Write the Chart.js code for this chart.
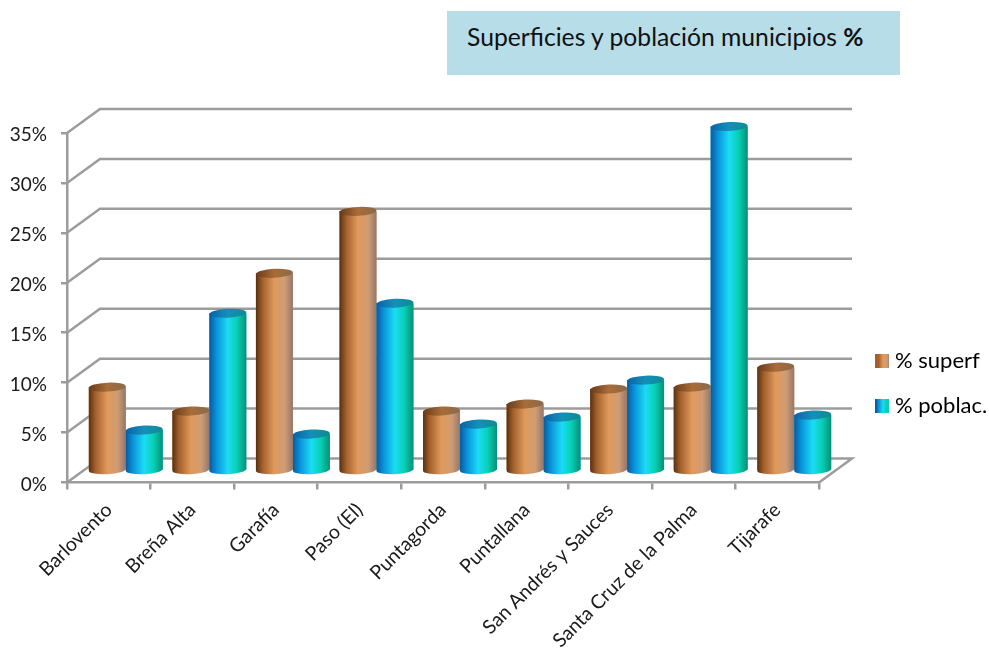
<!DOCTYPE html>
<html>
<head>
<meta charset="utf-8">
<title>Superficies y población municipios %</title>
<script src="https://cdn.jsdelivr.net/npm/chart.js@4/dist/chart.umd.min.js"></script>
<style>
    html, body { margin: 0; padding: 0; background: #fff; overflow: hidden; }
    #wrap { position: relative; width: 989px; height: 648px; }
    #chart { display: block; }
    #title {
        position: absolute; left: 447px; top: 11px; width: 433px; height: 64px;
        padding-left: 20px; background: #b7dde8; color: #111;
        font: 24.7px/52px Lato, sans-serif;
    }
</style>
</head>
<body>
<div id="wrap">
    <div id="title">Superficies y población municipios <b>%</b></div>
    <canvas id="chart" width="989" height="648"></canvas>
</div>
<script>
const categories = ['Barlovento', 'Breña Alta', 'Garafía', 'Paso (El)', 'Puntagorda', 'Puntallana',
    'San Andrés y Sauces', 'Santa Cruz de la Palma', 'Tijarafe'];
const superf = [8.4, 6.0, 19.8, 26.0, 6.0, 6.7, 8.2, 8.4, 10.4];
const poblac = [4.1, 15.8, 3.7, 16.8, 4.7, 5.4, 9.1, 34.5, 5.6];
const yTicks = [0, 5, 10, 15, 20, 25, 30, 35];

const GREY = '#9c9c9c';
const TEXT = '#1a1a1a';
const BACK_X = 33;   // how far the back wall sits behind the axes
const BACK_Y = 24;
const MID_X = 17;    // bars stand half way into the floor
const MID_Y = 11.5;
const CAP_RY = 4.5;

const orangeStops = [[0, '#59300f'], [0.18, '#a3602c'], [0.5, '#e09a5c'], [0.78, '#cf9c74'], [1, '#94776a']];
const blueStops = [[0, '#0a5a9e'], [0.2, '#0a94dc'], [0.5, '#1bdcf4'], [0.75, '#08d0b4'], [1, '#078f78']];
const orangeCap = [[0, '#6a3a16'], [0.5, '#a86c38'], [1, '#8a6a48']];
const blueCap = [[0, '#0a62a8'], [0.5, '#1490b8'], [1, '#0c8c90']];

function hGradient(ctx, x0, x1, stops) {
    const g = ctx.createLinearGradient(x0, 0, x1, 0);
    stops.forEach(s => g.addColorStop(s[0], s[1]));
    return g;
}

// Back wall, floor and the short slanted lines going back from the value axis
const wallPlugin = {
    id: 'wall',
    beforeDatasetsDraw(chart) {
        const { ctx, chartArea, scales } = chart;
        ctx.save();
        ctx.strokeStyle = GREY;
        ctx.lineWidth = 2.5;
        yTicks.forEach(v => {
            const y = scales.y.getPixelForValue(v);
            ctx.beginPath();
            ctx.moveTo(chartArea.left, y);
            ctx.lineTo(chartArea.left + BACK_X, y - BACK_Y);
            ctx.lineTo(chartArea.right + BACK_X, y - BACK_Y);
            if (v === 0) ctx.lineTo(chartArea.right, y);
            ctx.stroke();
        });
        ctx.restore();
        // the library's bars are drawn moved back into the floor
        ctx.save();
        ctx.translate(MID_X, -MID_Y);
    }
};

// Turns the library's flat bars into shaded cylinders, first series first
const cylinderPlugin = {
    id: 'cylinder',
    afterDatasetsDraw(chart) {
        const ctx = chart.ctx;
        chart.data.datasets.forEach((ds, index) => {
            const isOrange = index === 0;
            chart.getDatasetMeta(index).data.forEach(bar => {
                const left = bar.x - bar.width / 2;
                const right = bar.x + bar.width / 2;
                const rx = bar.width / 2;
                ctx.fillStyle = hGradient(ctx, left, right, isOrange ? orangeStops : blueStops);
                ctx.beginPath();
                ctx.moveTo(left, bar.y);
                ctx.lineTo(right, bar.y);
                ctx.lineTo(right, bar.base);
                ctx.ellipse(bar.x, bar.base, rx, CAP_RY, -0.05, 0, Math.PI);
                ctx.closePath();
                ctx.fill();
                ctx.fillStyle = hGradient(ctx, left, right, isOrange ? orangeCap : blueCap);
                ctx.beginPath();
                ctx.ellipse(bar.x, bar.y, rx, CAP_RY, -0.05, 0, Math.PI * 2);
                ctx.fill();
            });
        });
        ctx.restore();
    }
};

// The legend sits to the right of the plot, below the middle
const legendPlacePlugin = {
    id: 'legendPlace',
    afterLayout(chart) {
        chart.legend.left = 857;
        chart.legend.right = 989;
        chart.legend.top = 327;
        chart.legend.bottom = 648;
    }
};

const canvasCtx = document.getElementById('chart').getContext('2d');

new Chart(canvasCtx, {
    type: 'bar',
    data: {
        labels: categories,
        datasets: [
            { label: '% superf', data: superf, backgroundColor: '#c98a55' },
            { label: '% poblac.', data: poblac, backgroundColor: '#14b4dc' }
        ]
    },
    options: {
        responsive: false,
        animation: false,
        layout: { padding: { left: 0, right: 170, top: 133, bottom: 0 } },
        datasets: { bar: { categoryPercentage: 0.885, barPercentage: 1, clip: false } },
        plugins: {
            title: { display: false },
            tooltip: { enabled: false },
            legend: {
                position: 'chartArea',
                align: 'start',
                labels: {
                    color: TEXT,
                    font: { family: 'Lato', size: 22 },
                    // small box with a thick border, keeps the text close to the swatch
                    boxWidth: 4,
                    boxHeight: 4,
                    padding: 23,
                    generateLabels(chart) {
                        return chart.data.datasets.map((ds, i) => {
                            const fill = hGradient(canvasCtx, 876, 890, i === 0 ? orangeStops.slice(1) : blueStops.slice(0, 4));
                            return { text: ds.label, datasetIndex: i, lineWidth: 10, strokeStyle: fill, fillStyle: fill };
                        });
                    }
                }
            }
        },
        scales: {
            x: {
                afterFit(scale) { scale.height = 165.5; },
                grid: { drawOnChartArea: false, drawTicks: true, tickLength: 7, color: GREY, lineWidth: 2.5 },
                border: { color: GREY, width: 2.5 },
                ticks: {
                    color: TEXT,
                    font: { family: 'Lato', size: 19.5 },
                    minRotation: 45,
                    maxRotation: 45,
                    autoSkip: false,
                    padding: 9
                }
            },
            y: {
                min: 0,
                max: 35,
                afterFit(scale) { scale.width = 67; },
                afterBuildTicks(scale) { scale.ticks = yTicks.map(v => ({ value: v })); },
                grid: { drawOnChartArea: false, drawTicks: true, tickLength: 6, color: GREY, lineWidth: 2.5 },
                border: { color: GREY, width: 2.5 },
                ticks: {
                    color: TEXT,
                    font: { family: 'Lato', size: 19 },
                    padding: 14,
                    labelOffset: 2,
                    callback: v => v + '%'
                }
            }
        }
    },
    plugins: [wallPlugin, cylinderPlugin, legendPlacePlugin]
});
</script>
</body>
</html>
